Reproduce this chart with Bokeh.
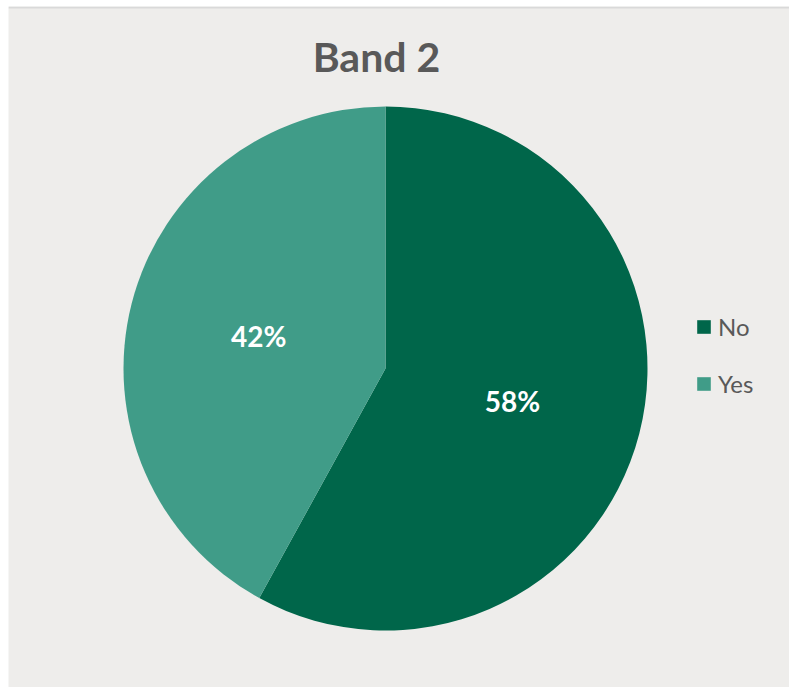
import math
from bokeh.plotting import figure
from bokeh.models import Range1d, Legend, LegendItem, ColumnDataSource, Label, Span
from bokeh.core.properties import value
from bokeh.embed import file_html
from bokeh.resources import INLINE

title = "Band 2"
categories = ["No", "Yes"]
shares = [58, 42]
colors = ["#00664A", "#409C88"]

PW, PH = 789, 687          # page size
LEFT, TOP = 8, 6           # chart area offset
BG = "#EEEDEB"
# page-pixel layout: y_data = PH - page_y
CX, CY, R = 385, PH - 368, 262

total = sum(shares)
starts, ends, lx, ly, labels = [], [], [], [], []
acc = 0.0
for s in shares:
    a0 = math.pi / 2 - 2 * math.pi * acc / total
    a1 = math.pi / 2 - 2 * math.pi * (acc + s) / total
    starts.append(a1)
    ends.append(a0)
    mid = (a0 + a1) / 2
    lx.append(CX + 0.5 * R * math.cos(mid))
    ly.append(CY + 0.5 * R * math.sin(mid))
    labels.append(f"{round(100 * s / total)}%")
    acc += s

src = ColumnDataSource(dict(cat=categories, start=starts, end=ends, color=colors,
                            lx=lx, ly=ly, label=labels))

p = figure(width=PW, height=PH, output_backend="svg", toolbar_location=None,
           x_range=Range1d(LEFT, PW), y_range=Range1d(0, PH - TOP),
           min_border=0, min_border_left=LEFT, min_border_right=0,
           min_border_top=TOP, min_border_bottom=0)
p.axis.visible = False
p.grid.visible = False
p.outline_line_color = None
p.background_fill_color = BG
p.border_fill_color = "white"

r = p.wedge(x=CX, y=CY, radius=R, start_angle="start", end_angle="end",
            fill_color="color", line_color=None, source=src)

p.text(x="lx", y="ly", text="label", source=src, text_color="white",
       text_font=value("Lato"), text_font_style="bold", text_font_size="28px",
       text_align="center", text_baseline="middle")

p.add_layout(Label(x=376, y=PH - 56, text=title, text_font="Lato",
                   text_font_style="bold", text_font_size="41px",
                   text_color="#595959", text_align="center",
                   text_baseline="alphabetic"))

p.add_layout(Span(location=PH - TOP - 1, dimension="width", line_color="#D9D9D9",
                  line_width=2))

items = [LegendItem(label=c, renderers=[r], index=i) for i, c in enumerate(categories)]
legend = Legend(items=items, location=(687, 289), orientation="vertical",
                background_fill_alpha=0, border_line_color=None,
                label_text_font="Lato", label_text_font_size="24px",
                label_text_color="#595959", glyph_width=17, glyph_height=17,
                label_standoff=6, spacing=28, padding=0, margin=0,
                label_height=17)
p.add_layout(legend)

open("out.html", "w").write(file_html(p, INLINE))
